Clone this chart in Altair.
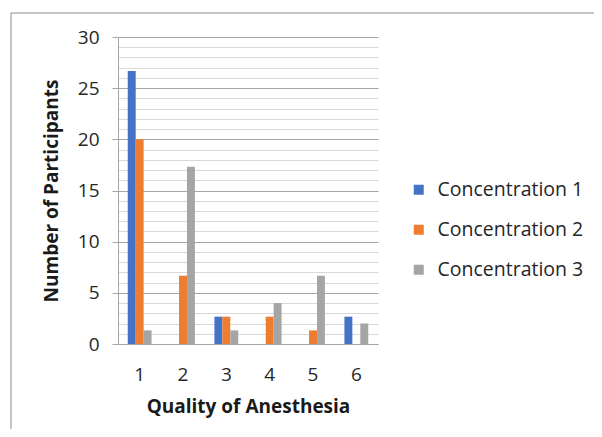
import altair as alt
import pandas as pd

categories = ["1", "2", "3", "4", "5", "6"]
series = ["Concentration 1", "Concentration 2", "Concentration 3"]
conc1 = [26.67, 0, 2.67, 0, 0, 2.67]
conc2 = [20.0, 6.67, 2.67, 2.67, 1.33, 0]
conc3 = [1.33, 17.33, 1.33, 4.0, 6.67, 2.0]
colors = ["#4472C4", "#ED7D31", "#A5A5A5"]
y_ticks = list(range(0, 31))

rows = []
for s, vals in zip(series, [conc1, conc2, conc3]):
    for c, v in zip(categories, vals):
        rows.append({"quality": c, "series": s, "value": v})
df = pd.DataFrame(rows)

FONT = "Open Sans"

bars = alt.Chart(df).mark_bar().encode(
    x=alt.X("quality:N", sort=categories,
            scale=alt.Scale(paddingInner=0.45, paddingOuter=0.225),
            axis=alt.Axis(title="Quality of Anesthesia", labelAngle=0, ticks=False, grid=False,
                          labelPadding=21, titlePadding=13,
                          domainColor="#a6a6a6", labelFontSize=19, titleFontSize=19,
                          titleFontWeight="bold", labelColor="#262626", titleColor="#1a1a1a")),
    xOffset=alt.XOffset("series:N", sort=series, scale=alt.Scale(paddingInner=0, paddingOuter=0)),
    y=alt.Y("value:Q", scale=alt.Scale(domain=[0, 30], nice=False),
            axis=alt.Axis(title="Number of Participants", values=y_ticks,
                          labelExpr="datum.value % 5 === 0 ? datum.label : ''",
                          grid=True,
                          gridColor=alt.condition("datum.value % 5 === 0", alt.value("#a6a6a6"), alt.value("#d9d9d9")),
                          tickOpacity=alt.condition("datum.value % 5 === 0", alt.value(1), alt.value(0)),
                          tickColor="#a6a6a6", tickSize=6, domainColor="#a6a6a6",
                          labelPadding=13, titlePadding=16, labelFontSize=19, titleFontSize=19,
                          titleFontWeight="bold", labelColor="#262626", titleColor="#1a1a1a")),
    color=alt.Color("series:N", sort=series,
                    scale=alt.Scale(domain=series, range=colors),
                    legend=alt.Legend(title=None, orient="none", legendX=291, legendY=143,
                                      symbolType="square", symbolSize=100, symbolStrokeWidth=0,
                                      labelFontSize=19.5, labelColor="#262626", rowPadding=19,
                                      labelOffset=9)),
)

frame = pd.DataFrame({"k": [0]})
border_left = alt.Chart(frame).mark_rule(stroke="#8c8c8c", strokeWidth=1).encode(
    x=alt.value(-107), y=alt.value(-24), y2=alt.value(600))
border_top = alt.Chart(frame).mark_rule(stroke="#8c8c8c", strokeWidth=1).encode(
    x=alt.value(-107), x2=alt.value(700), y=alt.value(-24))

chart = alt.layer(border_left, border_top, bars).properties(
    width=260, height=307,
    view=alt.ViewBackground(stroke="transparent", strokeWidth=0),
    autosize=alt.AutoSizeParams(type="none"),
    padding={"left": 110, "top": 29, "right": 216, "bottom": 85},
).configure(font=FONT).configure_view(strokeOpacity=0, strokeWidth=0)

chart.save("out.html", embed_options={"renderer": "svg", "actions": False})
